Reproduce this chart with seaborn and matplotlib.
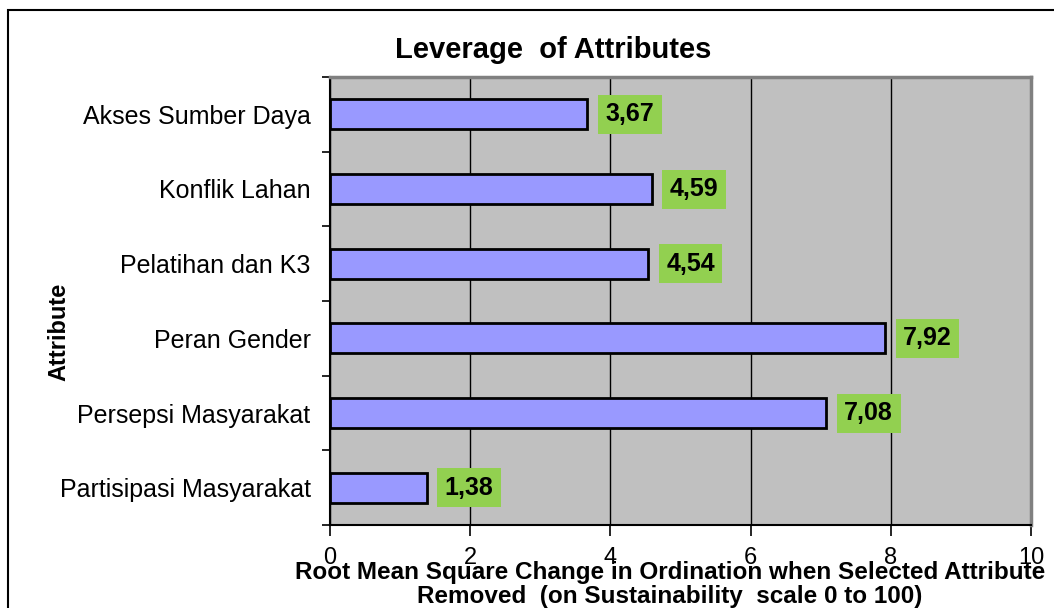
import matplotlib
matplotlib.use("Agg")
import matplotlib.pyplot as plt
from matplotlib.patches import Rectangle
from matplotlib.ticker import FixedLocator
import pandas as pd
import seaborn as sns

# data (top to bottom)
attributes = ["Akses Sumber Daya", "Konflik Lahan", "Pelatihan dan K3",
              "Peran Gender", "Persepsi Masyarakat", "Partisipasi Masyarakat"]
leverage = [3.67, 4.59, 4.54, 7.92, 7.08, 1.38]
x_ticks = [0, 2, 4, 6, 8, 10]

df = pd.DataFrame({"Attribute": attributes, "RMS": leverage})

sns.set_style("ticks")
plt.rcParams["font.family"] = ["Liberation Sans", "DejaVu Sans"]
plt.rcParams["text.color"] = "black"
plt.rcParams["axes.labelcolor"] = "black"
plt.rcParams["xtick.color"] = "black"
plt.rcParams["ytick.color"] = "black"

fig = plt.figure(figsize=(10.54, 6.08), dpi=100)
ax = fig.add_axes([330 / 1054, 1 - 525 / 608, 701 / 1054, 448 / 608])
ax.set_facecolor("#C0C0C0")

sns.barplot(data=df, x="RMS", y="Attribute", orient="h", color="#9999FF",
            saturation=1, edgecolor="black", linewidth=2, width=0.4, ax=ax)

#value labels in green boxes, comma as decimal sign
labels = [f"{v:.2f}".replace(".", ",") for v in leverage]
ax.bar_label(ax.containers[0], labels=labels, padding=13, fontsize=18,
             fontweight="bold", color="black",
             bbox=dict(boxstyle="square,pad=0.3", facecolor="#92D050", edgecolor="none"))

ax.set_xlim(0, 10)
ax.set_ylim(5.5, -0.5)
ax.set_xticks(x_ticks)
ax.set_xticklabels([str(t) for t in x_ticks], fontsize=17)
ax.tick_params(axis="x", length=8, width=1.2, color="black", pad=8)
ax.tick_params(axis="y", which="major", length=0, labelsize=18, pad=14)
ax.yaxis.set_minor_locator(FixedLocator([i - 0.5 for i in range(7)]))
ax.tick_params(axis="y", which="minor", length=6, width=1.2, color="black")

ax.grid(axis="x", color="black", linewidth=1)
ax.grid(axis="y", visible=False)
ax.set_axisbelow(True)

for side in ["left", "bottom"]:
    ax.spines[side].set_color("black")
    ax.spines[side].set_linewidth(1.5)
for side in ["top", "right"]:
    ax.spines[side].set_visible(True)
    ax.spines[side].set_color("#808080")
    ax.spines[side].set_linewidth(2.5)

ax.set_title("Leverage  of Attributes", fontsize=21, fontweight="bold",
             x=(553 - 330) / 701, pad=14)
ax.set_xlabel("Root Mean Square Change in Ordination when Selected Attribute\n"
              "Removed  (on Sustainability  scale 0 to 100)",
              fontsize=17.5, fontweight="bold", linespacing=1.08)
ax.xaxis.set_label_coords(0.485, -0.08)
ax.xaxis.label.set_va("top")
ax.set_ylabel("Attribute", fontsize=17, fontweight="bold")
ax.yaxis.set_label_coords(-0.37, 0.43)

# outer frame of the chart area
fig.add_artist(Rectangle((8 / 1054, -0.1), 1.2, 1 - 10 / 608 + 0.1,
                         transform=fig.transFigure, fill=False,
                         edgecolor="black", linewidth=1.5))

fig.savefig("out.png", dpi=100)
